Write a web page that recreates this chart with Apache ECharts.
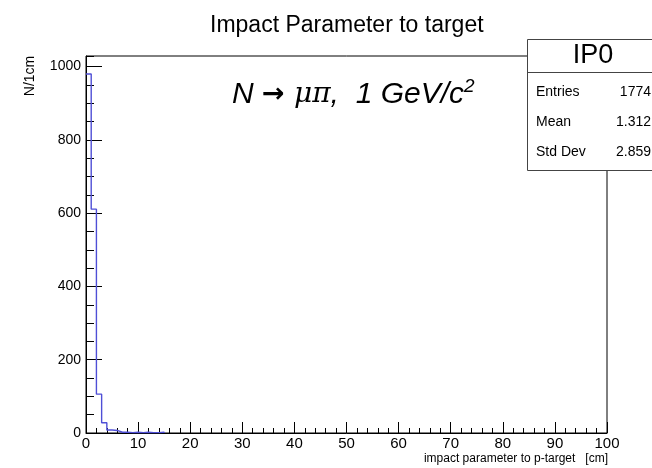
<!DOCTYPE html>
<html>
<head>
<meta charset="utf-8">
<script src="https://cdn.jsdelivr.net/npm/echarts@6/dist/echarts.min.js"></script>
<style>
html,body{margin:0;padding:0;background:#fff;}
#main{width:652px;height:468px;}
</style>
</head>
<body>
<div id="main"></div>
<script>
// histogram IP0, 1 cm bins (only non empty part)
var binLow = [0, 1, 2, 3, 4, 5, 6, 7, 8, 9, 10, 11, 12, 13, 14];
var binCounts = [980, 611, 106, 28, 8, 7, 2, 2, 1, 2, 1, 2, 1, 1, 2];
var lastEdge = 15;
var statNames = ['Entries', 'Mean', 'Std Dev'];
var statValues = ['1774', '1.312', '2.859'];
var yMajorLabels = [0, 200, 400, 600, 800, 1000];

var histData = [];
for (var i = 0; i < binLow.length; i++) {
    histData.push([binLow[i], binCounts[i]]);
}
histData.push([lastEdge, 0]);

var font = '"Liberation Sans", Arial, Helvetica, sans-serif';

var chartDom = document.getElementById('main');
var myChart = echarts.init(chartDom);
var option;

var statsGraphics = [
    {type: 'rect', shape: {x: 527.5, y: 39.5, width: 140, height: 131}, style: {fill: '#fff', stroke: '#444', lineWidth: 1}, z: 10},
    {type: 'line', shape: {x1: 527.5, y1: 72.5, x2: 652, y2: 72.5}, style: {stroke: '#444', lineWidth: 1}, z: 11},
    {type: 'text', x: 593, y: 56, style: {text: 'IP0', font: '27px ' + font, fill: '#000', align: 'center', verticalAlign: 'middle'}, z: 11}
];
for (var k = 0; k < statNames.length; k++) {
    statsGraphics.push({type: 'text', x: 536, y: 92 + k * 30, style: {text: statNames[k], font: '14px ' + font, fill: '#000', align: 'left', verticalAlign: 'middle'}, z: 11});
    statsGraphics.push({type: 'text', x: 651, y: 92 + k * 30, style: {text: statValues[k], font: '14px ' + font, fill: '#000', align: 'right', verticalAlign: 'middle'}, z: 11});
}

option = {
    backgroundColor: '#fff',
    animation: false,
    title: {
        text: 'Impact Parameter to target',
        left: 205,
        top: 9,
        textStyle: {fontFamily: font, fontSize: 23, fontWeight: 'normal', color: '#000'}
    },
    grid: {
        left: 86,
        right: 45,
        top: 56,
        bottom: 35,
        show: true,
        borderColor: '#000',
        borderWidth: 1
    },
    xAxis: [
        {
            type: 'value', min: 0, max: 100, interval: 10,
            axisLine: {show: true, onZero: false, lineStyle: {color: '#000'}},
            axisTick: {inside: true, length: 11, lineStyle: {color: '#000'}},
            splitLine: {show: false},
            axisLabel: {margin: 3, fontFamily: font, fontSize: 15, color: '#000'}
        },
        {
            type: 'value', min: 0, max: 100, interval: 2, position: 'bottom',
            axisLine: {show: false},
            axisTick: {inside: true, length: 5, lineStyle: {color: '#000'}},
            splitLine: {show: false},
            axisLabel: {show: false}
        }
    ],
    yAxis: [
        {
            type: 'value', min: 0, max: 1029, interval: 200, position: 'left',
            axisLine: {show: true, onZero: false, lineStyle: {color: '#000'}},
            axisTick: {inside: true, length: 16, lineStyle: {color: '#000'}},
            splitLine: {show: false},
            axisLabel: {
                margin: 5, fontFamily: font, fontSize: 14, color: '#000',
                showMaxLabel: false,
                formatter: function (v) { return yMajorLabels.indexOf(v) >= 0 ? String(v) : ''; }
            }
        },
        {
            type: 'value', min: 0, max: 1029, interval: 50, position: 'left', offset: 0,
            axisLine: {show: false},
            axisTick: {inside: true, length: 8, lineStyle: {color: '#000'}},
            splitLine: {show: false},
            axisLabel: {show: false}
        }
    ],
    graphic: [
        {type: 'text', x: 30, y: 76, rotation: Math.PI / 2,
         style: {text: 'N/1cm', font: '14px ' + font, fill: '#000', align: 'center', verticalAlign: 'middle'}},
        {type: 'text', x: 608, y: 459,
         style: {text: 'impact parameter to p-target   [cm]', font: '12px ' + font, fill: '#000', align: 'right', verticalAlign: 'middle'}},
        {type: 'text', x: 232, y: 95,
         style: {
             text: '{it|N }{ar|\u2192 }{gr|\u03bc\u03c0}{it|,  1 GeV/c}{sup|2}',
             verticalAlign: 'middle',
             rich: {
                 it: {fontFamily: font, fontStyle: 'italic', fontSize: 30, color: '#000'},
                 ar: {fontFamily: '"DejaVu Sans", sans-serif', fontWeight: 'bold', fontSize: 27, color: '#000'},
                 gr: {fontFamily: '"DejaVu Serif", serif', fontStyle: 'italic', fontSize: 28, color: '#000'},
                 sup: {fontFamily: font, fontStyle: 'italic', fontSize: 19, color: '#000', verticalAlign: 'top', padding: [0, 0, 16, 0]}
             }
         }}
    ].concat(statsGraphics),
    series: [
        {
            name: 'IP0',
            type: 'line',
            step: 'end',
            xAxisIndex: 0,
            yAxisIndex: 0,
            symbol: 'none',
            data: histData,
            lineStyle: {color: '#4f4fd6', width: 1.4},
            z: 3
        }
    ]
};

option && myChart.setOption(option);
</script>
</body>
</html>
